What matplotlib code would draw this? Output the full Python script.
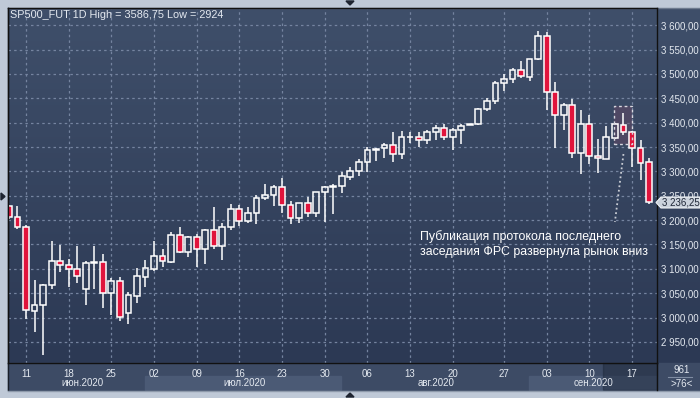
import matplotlib
matplotlib.use("Agg")
import matplotlib.pyplot as plt
import numpy as np
from matplotlib.patches import Rectangle, Polygon

plt.rcParams['font.family'] = ['Liberation Sans', 'DejaVu Sans']

# --- data ---
opens = [3229, 3205.75, 3185.25, 3012.75, 3025, 3066, 3116, 3107, 3099, 3058,
         3111, 3113.25, 3049.75, 3074.25, 3009.75, 3044.75, 3083.75, 3100.25, 3125.75, 3114.5,
         3168.75, 3135, 3164.75, 3141.25, 3179, 3147.5, 3185.25, 3222.25, 3197.5, 3214,
         3244.75, 3251, 3267.25, 3230.5, 3203.75, 3234.5, 3214, 3257, 3267.25, 3269.5,
         3289, 3300.25, 3318.75, 3343.5, 3347.5, 3353.5, 3336.25, 3370, 3370, 3364,
         3380.25, 3388.5, 3370, 3384.5, 3396, 3396.75, 3427.5, 3444, 3481, 3489,
         3507.5, 3493.25, 3530.25, 3577.5, 3462.5, 3415.25, 3435.75, 3337.25, 3396.75, 3331,
         3324.75, 3368, 3394.75, 3380, 3347.5, 3318.75]
highs = [3232, 3229, 3190.5, 3077, 3068, 3157, 3149, 3120, 3147, 3116,
         3147, 3130.5, 3080.5, 3082.5, 3052.5, 3101.5, 3118, 3157, 3140.75, 3175.5,
         3185.75, 3167.5, 3170.75, 3181, 3227, 3194, 3233.75, 3231.75, 3226.25, 3251,
         3274, 3272, 3286.5, 3239.25, 3236, 3246.75, 3258, 3270, 3274, 3298.25,
         3308.5, 3324.75, 3350, 3347.5, 3358.25, 3381, 3383, 3381, 3380, 3384.5,
         3395.25, 3397.25, 3389, 3396.75, 3397.5, 3429.5, 3450, 3485, 3499.5, 3511.75,
         3526, 3531, 3587.75, 3586.75, 3484.25, 3439.75, 3448, 3425.5, 3416.5, 3366,
         3392.5, 3399, 3419.25, 3383, 3364, 3327]
lows = [3203, 3181, 2996.25, 2970.75, 2924, 3059, 3094, 3063, 3071, 3026.25,
        3059, 3020, 3005, 2992.25, 2987.25, 3030.5, 3063, 3096, 3104.25, 3112,
        3132.5, 3124.25, 3104.25, 3110.5, 3141.25, 3118.75, 3179, 3188, 3194.5, 3191.5,
        3240.75, 3228.25, 3214, 3191.5, 3193.5, 3205.75, 3205.75, 3195.5, 3212, 3255,
        3282.25, 3290.5, 3299.5, 3322, 3327, 3319.25, 3326, 3357.75, 3349.5, 3355.5,
        3364.5, 3364, 3344, 3357, 3396, 3394.75, 3423.5, 3437.75, 3464.5, 3481,
        3491.25, 3485, 3528, 3425.5, 3347.5, 3385.5, 3328, 3295.25, 3315.75, 3297.25,
        3324.75, 3366, 3374, 3309, 3281.75, 3234]
closes = [3205.75, 3185.25, 3014.75, 3025, 3066, 3116, 3107.25, 3099, 3084.5, 3111.25,
          3113, 3049.75, 3074.25, 3001.5, 3045.5, 3084.5, 3101, 3125.75, 3115.5, 3168.75,
          3135, 3164.75, 3141.25, 3179, 3147.5, 3185.25, 3222.25, 3197.5, 3214, 3244.75,
          3251, 3267.25, 3230.5, 3203.75, 3234.5, 3214, 3257, 3267.25, 3269.5, 3290,
          3300.25, 3318.75, 3343.25, 3347, 3353.5, 3336.25, 3370, 3371.5, 3364, 3380.25,
          3389, 3370, 3385, 3392.5, 3397, 3427.5, 3444, 3481, 3489, 3507.5,
          3495.25, 3530.25, 3577.5, 3462.5, 3415.25, 3435.75, 3337.25, 3396.75, 3331, 3327,
          3370, 3396.75, 3380.25, 3347.5, 3316.5, 3236.25]

date_pos = [2, 7, 12, 17, 22, 27, 32, 37, 42, 47, 52, 58, 63, 68, 73]
date_labels = ['11', '18', '25', '02', '09', '16', '23', '30', '06', '13', '20', '27', '03', '10', '17']
month_labels = ['июн.2020', 'июл.2020', 'авг.2020', 'сен.2020']
month_x = [82, 244, 436, 594]          # label centres, px
price_ticks = list(range(2950, 3601, 50))

title = 'SP500_FUT 1D High = 3586,75 Low = 2924'
note = 'Публикация протокола последнего\nзаседания ФРС развернула рынок вниз'

RED = '#e0143c'
TXT = '#e4e9f0'

W, H = 700, 398
fig = plt.figure(figsize=(W / 100, H / 100), dpi=100, facecolor='#bfc9d7')

# background / frame layer in pixel coords
bg = fig.add_axes([0, 0, 1, 1], zorder=0)
bg.set_xlim(0, W)
bg.set_ylim(H, 0)
bg.axis('off')
grad = np.linspace(0, 1, 256).reshape(-1, 1)
cmap = matplotlib.colors.LinearSegmentedColormap.from_list('bgc', ['#3f4f6a', '#2c3954'])
bg.imshow(grad, extent=(8, W, 363, 8), cmap=cmap, aspect='auto', zorder=0)
bg.add_patch(Rectangle((8, 363), W - 8, 27, color='#3d4b65', zorder=1))
bg.add_patch(Rectangle((145, 376), 196, 14, color='#4b5a75', zorder=2))
bg.add_patch(Rectangle((529, 376), 128, 14, color='#4b5a75', zorder=2))
bg.add_patch(Rectangle((603, 363), 54, 27, color='#1c2638', alpha=0.45, zorder=3))
bg.plot([8, W], [7.5, 7.5], color='#6d7a8e', lw=1, zorder=4)
bg.plot([7.5, 7.5], [8, 390], color='#1a1f28', lw=1, zorder=4)
bg.plot([8, W], [390.5, 390.5], color='#8e9aab', lw=1, zorder=4)
bg.plot([657, 657], [363, 390], color='#111111', lw=1, zorder=4)
bg.plot([668, 692], [377, 377], color='#7f8ca2', lw=0.8, zorder=4)
bg.text(682, 370, '961', color=TXT, fontsize=7, ha='center', va='center')
bg.text(682, 384, '>76<', color=TXT, fontsize=7, ha='center', va='center')
for x, lab in zip(month_x, month_labels):
    bg.text(x, 383, lab, color=TXT, fontsize=7, ha='center', va='center', zorder=5)
bg.add_patch(Polygon([(346, 1), (354, 1), (350, 5)], color='#1e2430'))
bg.add_patch(Polygon([(346, 397), (354, 397), (350, 393)], color='#1e2430'))
bg.add_patch(Polygon([(1, 193), (1, 200), (5, 196.5)], color='#1e2430'))

# main price axes
ax = fig.add_axes([8 / W, (H - 363) / H, 649 / W, 355 / H], zorder=1)
ax.patch.set_alpha(0)
ax.set_xlim(-0.11, 75.93)
ax.set_ylim(2906.6, 3635.5)

ax.grid(True, color='#7584a0', linestyle=(0, (2, 2.5)), linewidth=0.9, zorder=0)
ax.set_axisbelow(True)
for s in ax.spines.values():
    s.set_color('#111111')
    s.set_linewidth(1)

ax.yaxis.tick_right()
ax.set_yticks(price_ticks)
ax.set_yticklabels([f'{v:,.2f}'.replace(',', ' ').replace('.', ',') for v in price_ticks])
ax.set_xticks(date_pos)
ax.set_xticklabels(date_labels)
ax.tick_params(axis='y', length=0, pad=3, labelsize=7, labelcolor=TXT)
ax.tick_params(axis='x', length=0, pad=4, labelsize=7, labelcolor=TXT)

# highlight box around the FOMC minutes candles
ax.add_patch(Rectangle((70.95, 3356.9), 2.0, 77.4, facecolor='#6a4a66', alpha=0.45,
                       edgecolor='none', zorder=1.5))
ax.add_patch(Rectangle((70.95, 3356.9), 2.0, 77.4, facecolor='none',
                       edgecolor='#d8d8e0', linestyle=(0, (2, 2)), linewidth=1, zorder=3))

# candles
bw = 0.68
for i, (o, h, l, c) in enumerate(zip(opens, highs, lows, closes)):
    lo, hi = min(o, c), max(o, c)
    ax.vlines(i, l, lo, color='white', linewidth=1.1, zorder=2)
    ax.vlines(i, hi, h, color='white', linewidth=1.1, zorder=2)
    fc = RED if c < o else 'none'
    ax.bar(i, max(hi - lo, 0.8), bottom=lo, width=bw, facecolor=fc,
           edgecolor='white', linewidth=1.1, zorder=2.5)

# dotted pointer from the note to the box
ax.plot([72.0, 71.0], [3335.7, 3196.1], color='#c8ccd4', linestyle=(0, (1, 1.5)),
        linewidth=1.3, zorder=3)

# top overlay: title, note, last price label
top = fig.add_axes([0, 0, 1, 1], zorder=2)
top.set_xlim(0, W)
top.set_ylim(H, 0)
top.axis('off')
top.text(10, 15, title, color=TXT, fontsize=7.8, ha='left', va='center')
top.text(420, 244, note, color='white', fontsize=8.9, ha='left', va='center',
         linespacing=1.25)
top.add_patch(Polygon([(656, 202.5), (661, 197), (700, 197), (700, 208), (661, 208)],
                      facecolor='#cbd2dc', edgecolor='#eef1f5', linewidth=0.8))
top.text(662, 202.8, '3 236,25', color='#1e2636', fontsize=7, ha='left', va='center')

fig.savefig('out.png', dpi=100, facecolor=fig.get_facecolor())
